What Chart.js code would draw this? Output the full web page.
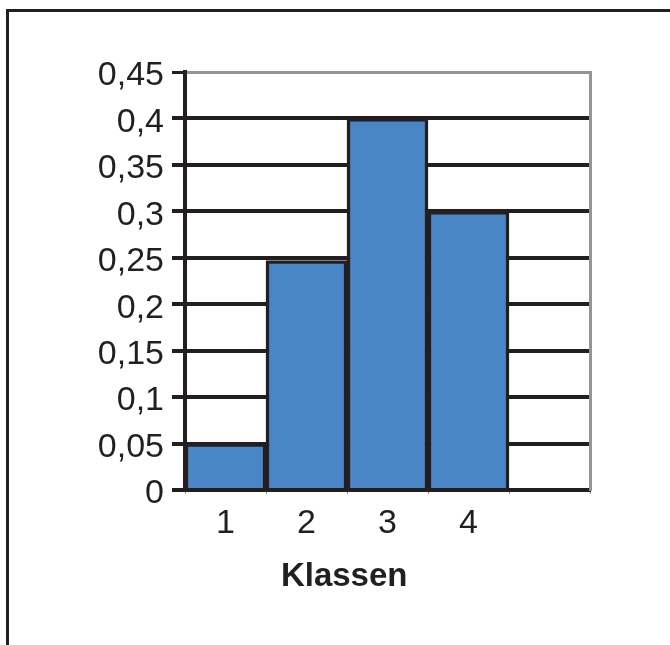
<!DOCTYPE html>
<html>
<head>
<meta charset="utf-8">
<script src="https://cdn.jsdelivr.net/npm/chart.js@4/dist/chart.umd.min.js"></script>
<style>
  html, body { margin: 0; padding: 0; background: #fff; }
  #wrap { position: relative; width: 670px; height: 645px; overflow: hidden; }
  #c { position: absolute; left: 0; top: 0; }
  #frame { position: absolute; left: 6px; top: 9px; width: 700px; height: 700px;
           border-top: 3px solid #231f20; border-left: 3px solid #231f20; pointer-events: none; }
</style>
</head>
<body>
<div id="wrap">
  <canvas id="c" width="670" height="645"></canvas>
  <div id="frame"></div>
</div>
<script>
const categories = ['1', '2', '3', '4', ''];
const values = [0.05, 0.247, 0.4, 0.3, null];
const yTickLabels = ['0', '0,05', '0,1', '0,15', '0,2', '0,25', '0,3', '0,35', '0,4', '0,45'];
const xTitle = 'Klassen';

const INK = '#231f20';
const GRAY = '#939598';
const FONT = "'Liberation Sans', Arial, sans-serif";

const titlePlugin = {
  id: 'xTitle',
  afterDraw(chart) {
    const ctx = chart.ctx;
    const a = chart.chartArea;
    ctx.save();
    ctx.font = 'bold 33px ' + FONT;
    ctx.fillStyle = INK;
    ctx.textAlign = 'center';
    ctx.textBaseline = 'middle';
    ctx.fillText(xTitle, a.left + (a.right - a.left) * 0.393, a.bottom + 87);
    ctx.restore();
  }
};

new Chart(document.getElementById('c'), {
  type: 'bar',
  data: {
    labels: categories,
    datasets: [{
      data: values,
      backgroundColor: '#4a86c6',
      borderColor: INK,
      borderWidth: 3.5,
      barPercentage: 1,
      categoryPercentage: 1
    }]
  },
  options: {
    responsive: false,
    animation: false,
    devicePixelRatio: 1,
    layout: { padding: { top: 72, right: 80, bottom: 0, left: 0 } },
    plugins: { legend: { display: false }, tooltip: { enabled: false }, title: { display: false } },
    scales: {
      x: {
        z: 1,
        offset: true,
        border: { display: true, color: INK, width: 4 },
        grid: { offset: true, drawOnChartArea: false, drawTicks: true, tickLength: 4, color: GRAY, lineWidth: 1 },
        ticks: { color: INK, font: { family: FONT, size: 34 }, padding: 9, maxRotation: 0 },
        afterFit(s) { s.height = 155; }
      },
      y: {
        min: 0, max: 0.45,
        ticks: {
          stepSize: 0.05,
          color: INK,
          font: { family: FONT, size: 34 },
          padding: 8,
          labelOffset: 4,
          callback: (v, i) => yTickLabels[i]
        },
        border: { display: true, color: INK, width: 4 },
        grid: {
          color: (c) => (c.index === 9 ? GRAY : INK),
          lineWidth: (c) => (c.index === 9 ? 3 : 4),
          tickColor: INK,
          tickLength: 13,
          drawTicks: true
        },
        afterFit(s) { s.width = 185; }
      },
      y2: {
        position: 'right',
        min: 0, max: 0.45,
        ticks: { display: false },
        grid: { drawOnChartArea: false, drawTicks: false },
        border: { display: true, color: GRAY, width: 3 },
        afterFit(s) { s.width = 0; }
      }
    }
  },
  plugins: [titlePlugin]
});
</script>
</body>
</html>
